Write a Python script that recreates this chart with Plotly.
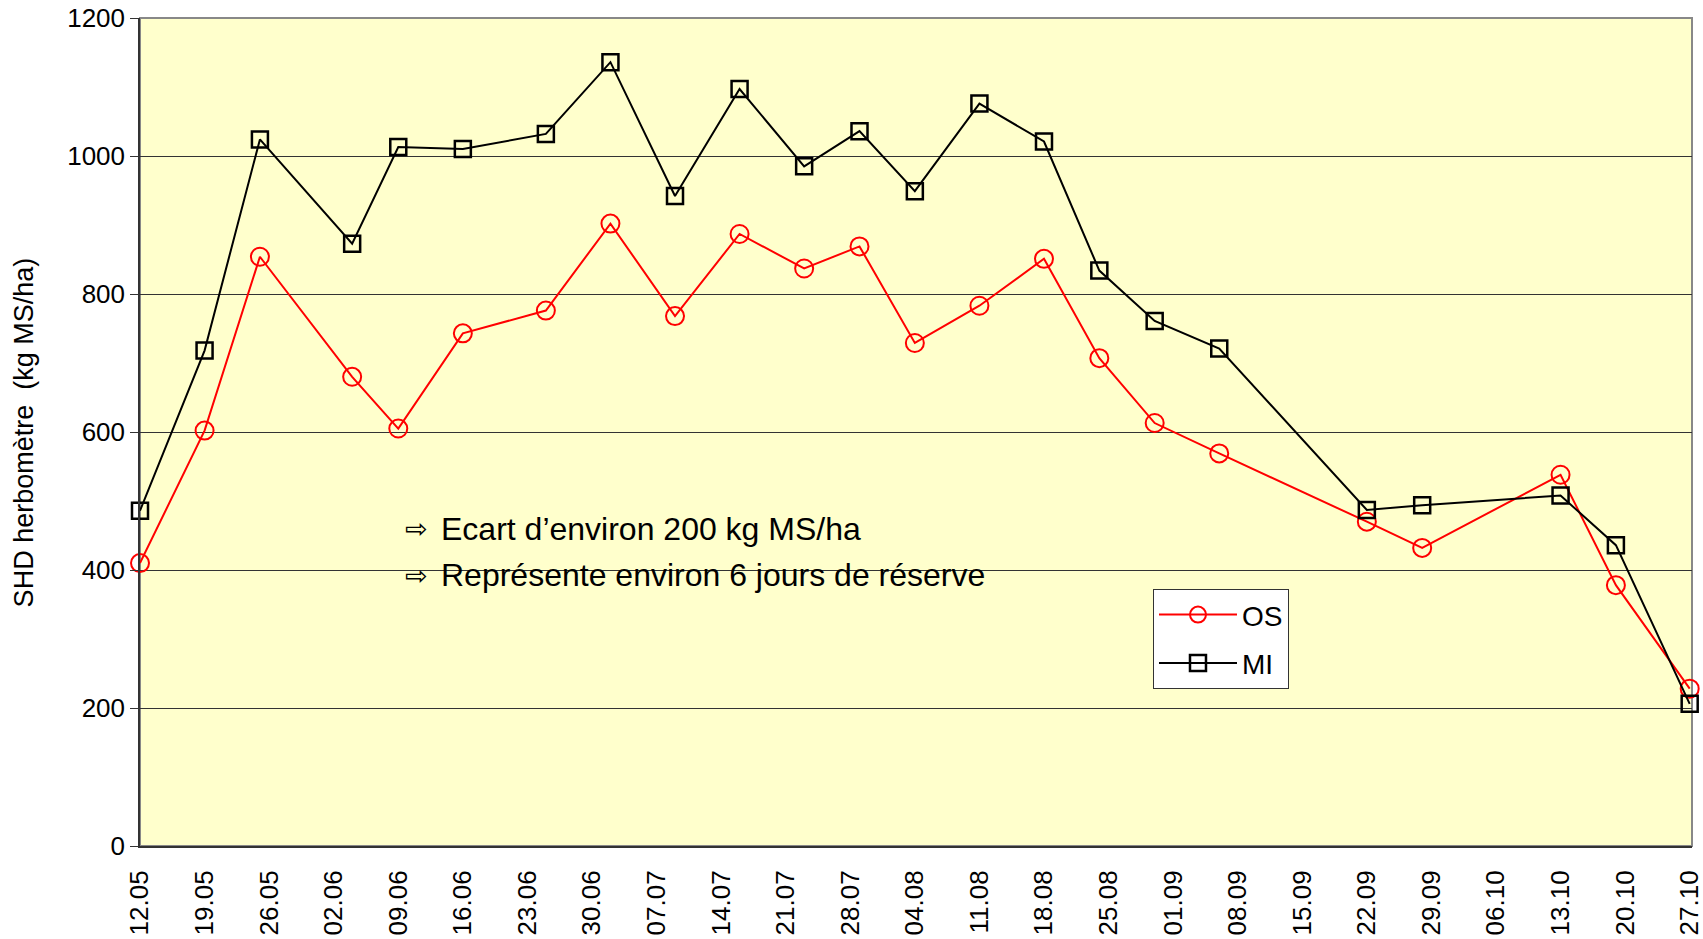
import plotly.graph_objects as go

dates = ["2008-05-12", "2008-05-19", "2008-05-25", "2008-06-04", "2008-06-09",
         "2008-06-16", "2008-06-25", "2008-07-02", "2008-07-09", "2008-07-16",
         "2008-07-23", "2008-07-29", "2008-08-04", "2008-08-11", "2008-08-18",
         "2008-08-24", "2008-08-30", "2008-09-06", "2008-09-22", "2008-09-28",
         "2008-10-13", "2008-10-19", "2008-10-27"]
os_values = [410, 602, 854, 680, 605, 743, 776, 902, 768, 887, 837, 869,
             729, 783, 851, 707, 613, 569, 470, 432, 538, 378, 228]
mi_values = [486, 718, 1024, 873, 1013, 1010, 1032, 1136, 942, 1097, 985, 1036,
             949, 1076, 1021, 834, 761, 721, 487, 494, 508, 436, 206]
series_names = ["OS", "MI"]
y_title = "SHD herbomètre  (kg MS/ha)"
note_lines = ["Ecart d’environ 200 kg MS/ha", "Représente environ 6 jours de réserve"]

FONT = "Liberation Sans, Arial, sans-serif"

fig = go.Figure()
fig.add_trace(go.Scatter(
    x=dates, y=os_values, name=series_names[0], mode="lines+markers",
    line=dict(color="#FF0000", width=2),
    marker=dict(symbol="circle-open", size=18, color="#FF0000", line=dict(width=2, color="#FF0000")),
    legendgroup="a", cliponaxis=False))
fig.add_trace(go.Scatter(
    x=dates, y=mi_values, name=series_names[1], mode="lines+markers",
    line=dict(color="#000000", width=2),
    marker=dict(symbol="square-open", size=16, color="#000000", line=dict(width=2.5, color="#000000")),
    legendgroup="b", cliponaxis=False))

# plot border (top/right gray)
fig.add_shape(type="rect", xref="paper", yref="paper", x0=0, y0=0, x1=1, y1=1,
              line=dict(color="#888888", width=2), layer="below")

annots = []
ys = [0.383, 0.327]
for yy, txt in zip(ys, note_lines):
    annots.append(dict(xref="paper", yref="paper", x=0.178, y=yy, text="⇨",
                       showarrow=False, xanchor="center", yanchor="middle",
                       font=dict(family="DejaVu Sans, sans-serif", size=27, color="#000")))
    annots.append(dict(xref="paper", yref="paper", x=0.1925, y=yy, text=txt,
                       showarrow=False, xanchor="left", yanchor="middle",
                       font=dict(family=FONT, size=32, color="#000")))
annots.append(dict(xref="paper", yref="paper", x=-0.0745, y=0.5, text=y_title,
                   textangle=-90, showarrow=False, xanchor="center", yanchor="middle",
                   font=dict(family=FONT, size=27, color="#000")))

fig.update_layout(
    width=1703, height=939,
    margin=dict(l=140, r=11, t=18, b=93, autoexpand=False),
    paper_bgcolor="white", plot_bgcolor="#FFFFCC",
    font=dict(family=FONT, size=26, color="#000"),
    showlegend=True,
    legend=dict(x=0.6527, y=0.3105, xanchor="left", yanchor="top",
                bgcolor="white", bordercolor="#333333", borderwidth=1,
                font=dict(family=FONT, size=28, color="#000"),
                itemwidth=78, traceorder="grouped", tracegroupgap=9),
    annotations=annots,
)
fig.update_xaxes(
    type="date", range=["2008-05-12", "2008-10-27 06:00"],
    tick0="2008-05-12", dtick=7 * 86400000, tickformat="%d.%m", tickangle=-90,
    showgrid=False, showline=True, linecolor="#333333", linewidth=2,
    ticks="", tickfont=dict(family=FONT, size=26, color="#000"),
    ticklabelstandoff=12, ticklabeloverflow="allow", zeroline=False, automargin=False,
)
fig.update_yaxes(
    range=[0, 1200], dtick=200, showgrid=True, gridcolor="#333333", gridwidth=1,
    showline=True, linecolor="#333333", linewidth=1.5,
    ticks="outside", ticklen=8, tickcolor="#333333",
    tickfont=dict(family=FONT, size=26, color="#000"), zeroline=False, automargin=False,
)

fig.write_html("out.html", config={"displayModeBar": False},
               post_script="document.body.style.margin='0';document.body.style.overflow='hidden';")
